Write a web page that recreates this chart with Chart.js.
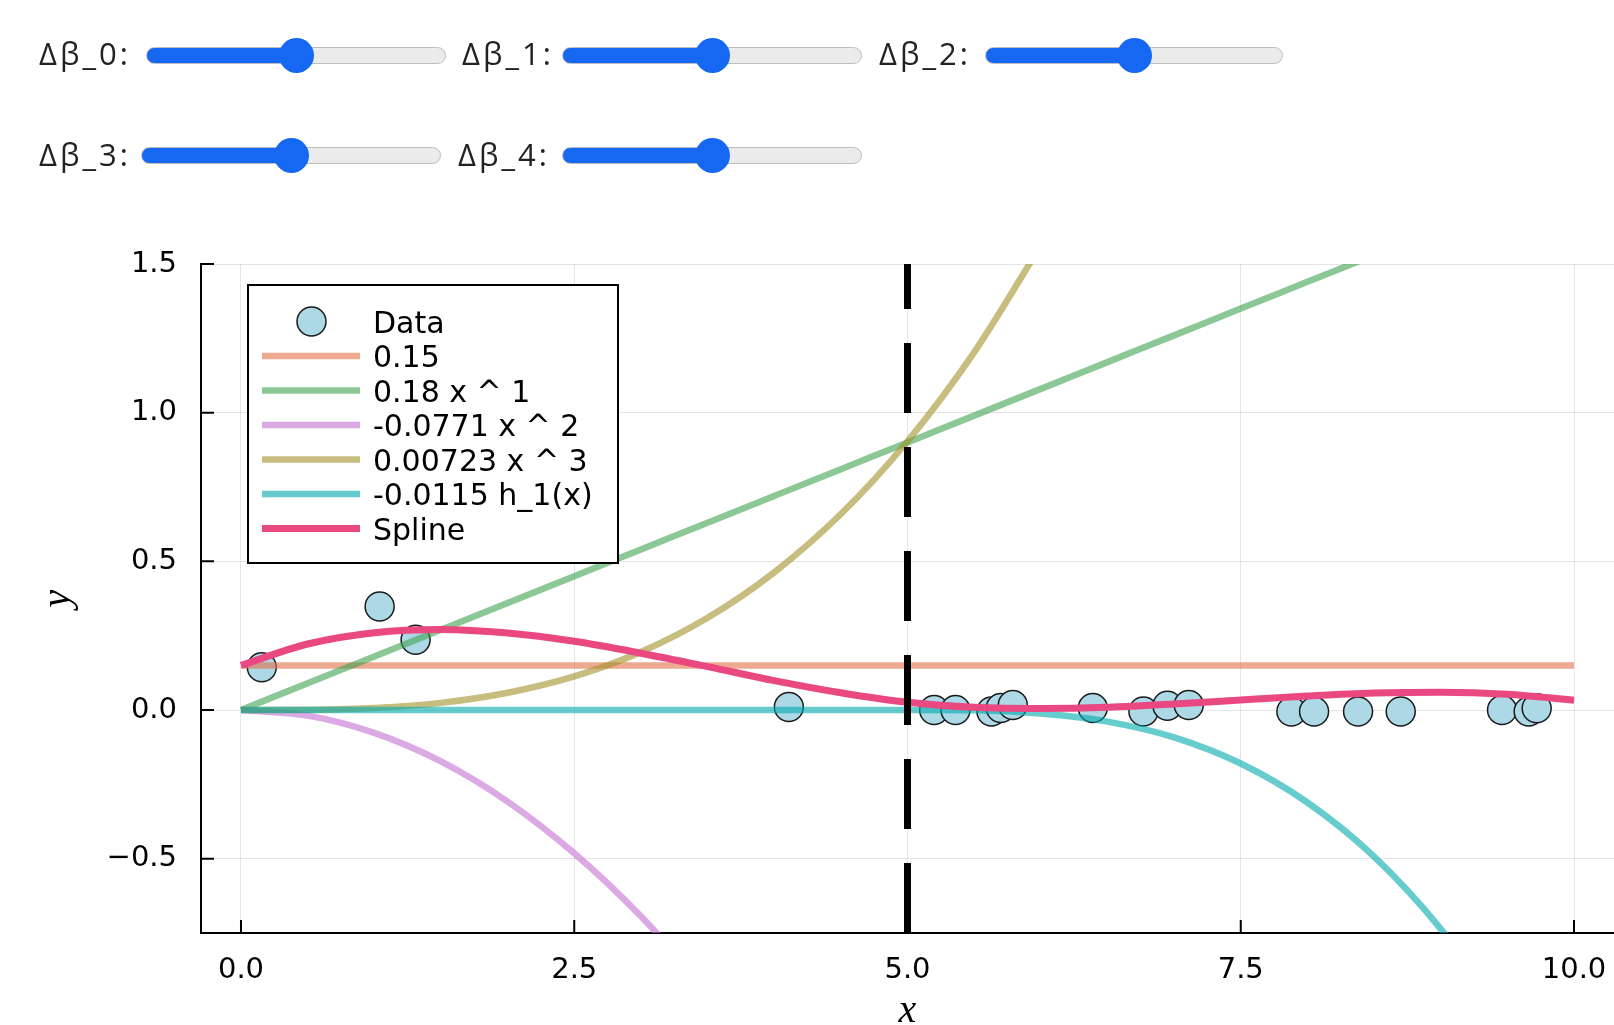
<!DOCTYPE html>
<html>
<head>
<meta charset="utf-8">
<script src="https://cdn.jsdelivr.net/npm/chart.js@4.4.1/dist/chart.umd.min.js"></script>
<style>
  html, body { margin: 0; padding: 0; background: #fff; }
  body { width: 1614px; height: 1025px; position: relative; overflow: hidden; }
  #chart { position: absolute; left: 0; top: 0; }
  .lbl { position: absolute; font-family: "Open Sans", sans-serif; font-size: 31px; line-height: 1; color: #222; letter-spacing: 3px; white-space: nowrap; }
  input[type=range] {
    position: absolute; -webkit-appearance: none; appearance: none;
    width: 300px; height: 17px; margin: 0; padding: 0; box-sizing: border-box;
    border-radius: 9px; border: 1px solid #bdbdbd; outline: none;
    background: linear-gradient(to right, #1668f2 0%, #1668f2 50%, #ebebeb 50%, #ebebeb 100%);
  }
  input[type=range]::-webkit-slider-thumb {
    -webkit-appearance: none; appearance: none;
    width: 35px; height: 35px; border-radius: 50%; background: #1668f2; border: none;
  }
</style>
</head>
<body>
<canvas id="chart" width="1614" height="1025"></canvas>
<div id="controls"></div>
<script>
// slider panel (state of the interactive widget)
const sliderNames = ['Δβ_0:', 'Δβ_1:', 'Δβ_2:', 'Δβ_3:', 'Δβ_4:'];
const sliderValues = [50, 50, 50, 50, 50];

// scatter data
const dataX = [0.156, 1.04, 1.31, 4.11, 5.20, 5.36, 5.63, 5.70, 5.79, 6.39,
               6.77, 6.95, 7.11, 7.88, 8.05, 8.38, 8.70, 9.46, 9.66, 9.72];
const dataY = [0.144, 0.348, 0.236, 0.010, 0.000, 0.000, -0.005, 0.007, 0.017, 0.007,
               -0.005, 0.014, 0.017, -0.005, -0.005, -0.005, -0.005, 0.000, -0.005, 0.006];

// curves, read at x = 0, 0.5, 1, ... 10
const gridX = [0, 0.5, 1, 1.5, 2, 2.5, 3, 3.5, 4, 4.5, 5, 5.5, 6, 6.5, 7, 7.5, 8, 8.5, 9, 9.5, 10];
const interceptY = [0.15, 0.15, 0.15, 0.15, 0.15, 0.15, 0.15, 0.15, 0.15, 0.15, 0.15,
                    0.15, 0.15, 0.15, 0.15, 0.15, 0.15, 0.15, 0.15, 0.15, 0.15];
const linearY = [0, 0.09, 0.18, 0.27, 0.36, 0.45, 0.54, 0.63, 0.72, 0.81, 0.90,
                 0.99, 1.08, 1.17, 1.26, 1.35, 1.44, 1.53, 1.62, 1.71, 1.80];
const quadY = [0, -0.019, -0.077, -0.173, -0.308, -0.482, -0.694, -0.944];
const cubicY = [0, 0.001, 0.007, 0.024, 0.058, 0.113, 0.195, 0.310, 0.463, 0.659, 0.904, 1.203, 1.562];
const hingeY = [0, 0, 0, 0, 0, 0, 0, 0, 0, 0, 0,
                -0.001, -0.012, -0.039, -0.092, -0.180, -0.311, -0.493, -0.736, -1.048];
const splineY = [0.150, 0.222, 0.260, 0.271, 0.259, 0.231, 0.191, 0.146, 0.099, 0.058, 0.026,
                 0.009, 0.005, 0.009, 0.020, 0.034, 0.047, 0.057, 0.060, 0.053, 0.033];
const knotX = 5;

// axes
const xRange = [-0.3, 10.3];
const yRange = [-0.75, 1.5];
const xTicks = [0, 2.5, 5, 7.5, 10];
const xTickLabels = ['0.0', '2.5', '5.0', '7.5', '10.0'];
const yTicks = [-0.5, 0, 0.5, 1, 1.5];
const yTickLabels = ['\u22120.5', '0.0', '0.5', '1.0', '1.5'];

// sliders
const sliderPos = [
  { lx: 39, ly: 38, sx: 146, sy: 47, w: 300 },
  { lx: 462, ly: 38, sx: 562, sy: 47, w: 300 },
  { lx: 879, ly: 38, sx: 985, sy: 47, w: 298 },
  { lx: 39, ly: 139, sx: 141, sy: 147, w: 300 },
  { lx: 458, ly: 139, sx: 562, sy: 147, w: 300 },
];
const controls = document.getElementById('controls');
sliderNames.forEach((name, i) => {
  const p = sliderPos[i];
  const lbl = document.createElement('div');
  lbl.className = 'lbl';
  lbl.textContent = name;
  lbl.style.left = p.lx + 'px';
  lbl.style.top = p.ly + 'px';
  controls.appendChild(lbl);
  const s = document.createElement('input');
  s.type = 'range';
  s.min = 0; s.max = 100; s.value = sliderValues[i];
  s.style.left = p.sx + 'px';
  s.style.top = p.sy + 'px';
  s.style.width = p.w + 'px';
  controls.appendChild(s);
});

const pts = (xs, ys) => ys.map((y, i) => ({ x: xs[i], y: y }));

function lineSet(label, ys, color, width, order) {
  return {
    label: label, data: pts(gridX, ys), showLine: true, inLegend: true,
    borderColor: color, borderWidth: width, pointRadius: 0,
    cubicInterpolationMode: 'monotone', fill: false, order: order,
  };
}

const datasets = [
  {
    label: 'Data', data: pts(dataX, dataY), inLegend: true,
    pointRadius: 14.5, pointBackgroundColor: '#add8e6', pointBorderColor: '#1a1a1a',
    pointBorderWidth: 1.5, order: 10,
  },
  lineSet('0.15', interceptY, 'rgba(227,111,71,0.6)', 6.5, 9),
  lineSet('0.18 x ^ 1', linearY, 'rgba(62,164,78,0.6)', 6.5, 8),
  lineSet('-0.0771 x ^ 2', quadY, 'rgba(195,113,210,0.6)', 6.5, 7),
  lineSet('0.00723 x ^ 3', cubicY, 'rgba(160,145,40,0.6)', 6.5, 6),
  lineSet('-0.0115 h_1(x)', hingeY, 'rgba(0,170,174,0.6)', 6.5, 5),
  lineSet('Spline', splineY, 'rgb(233,72,128)', 7, 4),
  {
    label: 'knot', data: [{ x: knotX, y: yRange[0] }, { x: knotX, y: yRange[1] }],
    showLine: true, inLegend: false, borderColor: '#000', borderWidth: 7,
    borderDash: [70, 34], pointRadius: 0, order: 0,
  },
];

// inward tick marks, like the original plot
const innerTicks = {
  id: 'innerTicks',
  afterDraw(chart) {
    const { ctx, chartArea: a, scales: { x, y } } = chart;
    ctx.save();
    ctx.strokeStyle = '#000';
    ctx.lineWidth = 2;
    ctx.beginPath();
    xTicks.forEach(v => {
      const px = x.getPixelForValue(v);
      ctx.moveTo(px, a.bottom); ctx.lineTo(px, a.bottom - 13);
    });
    yTicks.forEach(v => {
      const py = y.getPixelForValue(v);
      ctx.moveTo(a.left, py); ctx.lineTo(a.left + 13, py);
    });
    ctx.stroke();
    ctx.restore();
  }
};

// boxed legend in the top left corner of the plot
const plotLegend = {
  id: 'plotLegend',
  afterDraw(chart) {
    const { ctx, chartArea: a } = chart;
    const bx = a.left + 47, by = a.top + 21, bw = 370, bh = 278;
    ctx.save();
    ctx.fillStyle = '#fff';
    ctx.fillRect(bx, by, bw, bh);
    ctx.strokeStyle = '#000';
    ctx.lineWidth = 2;
    ctx.strokeRect(bx, by, bw, bh);
    ctx.font = '30px "DejaVu Sans"';
    ctx.textBaseline = 'alphabetic';
    chart.data.datasets.filter(d => d.inLegend).forEach((d, i) => {
      const cy = by + 36.5 + i * 34.5;
      if (d.showLine) {
        ctx.strokeStyle = d.borderColor;
        ctx.lineWidth = d.borderWidth;
        ctx.beginPath();
        ctx.moveTo(bx + 14, cy); ctx.lineTo(bx + 112, cy);
        ctx.stroke();
      } else {
        ctx.fillStyle = d.pointBackgroundColor;
        ctx.strokeStyle = d.pointBorderColor;
        ctx.lineWidth = d.pointBorderWidth;
        ctx.beginPath();
        ctx.arc(bx + 63.5, cy, d.pointRadius, 0, Math.PI * 2);
        ctx.fill(); ctx.stroke();
      }
      ctx.fillStyle = '#000';
      ctx.fillText(d.label, bx + 125, cy + 11);
    });
    ctx.restore();
  }
};

const tickFont = { family: 'DejaVu Sans', size: 29 };
const xTitleFont = { family: 'Liberation Serif', style: 'italic', size: 40, lineHeight: 0.7 };
const yTitleFont = { family: 'Liberation Serif', style: 'italic', size: 40, lineHeight: 1.1 };

new Chart(document.getElementById('chart'), {
  type: 'scatter',
  data: { datasets: datasets },
  options: {
    responsive: false,
    animation: false,
    devicePixelRatio: 1,
    layout: { autoPadding: false, padding: { top: 264, left: 0, right: 0, bottom: 0 } },
    plugins: { legend: { display: false }, tooltip: { enabled: false } },
    scales: {
      x: {
        type: 'linear', min: xRange[0], max: xRange[1],
        afterBuildTicks: s => { s.ticks = xTicks.map(v => ({ value: v })); },
        afterFit: s => { s.height = 92; s.paddingLeft = 0; s.paddingRight = 0; },
        grid: { color: 'rgba(0,0,0,0.1)', lineWidth: 1, drawTicks: false },
        border: { color: '#000', width: 2 },
        ticks: { font: tickFont, color: '#000', padding: 20, maxRotation: 0, autoSkip: false,
                 callback: (v, i) => xTickLabels[i] },
        title: { display: true, text: 'x', font: xTitleFont, color: '#000', padding: { top: 0, bottom: 0 } },
      },
      y: {
        type: 'linear', min: yRange[0], max: yRange[1],
        afterBuildTicks: s => { s.ticks = yTicks.map(v => ({ value: v })); },
        afterFit: s => { s.width = 201; },
        grid: { color: 'rgba(0,0,0,0.1)', lineWidth: 1, drawTicks: false },
        border: { color: '#000', width: 2 },
        ticks: { font: tickFont, color: '#000', padding: 24, autoSkip: false,
                 callback: (v, i) => yTickLabels[i] },
        title: { display: true, text: 'y', font: yTitleFont, color: '#000', padding: { top: 36, bottom: 0 } },
      },
    },
  },
  plugins: [innerTicks, plotLegend],
});
</script>
</body>
</html>
